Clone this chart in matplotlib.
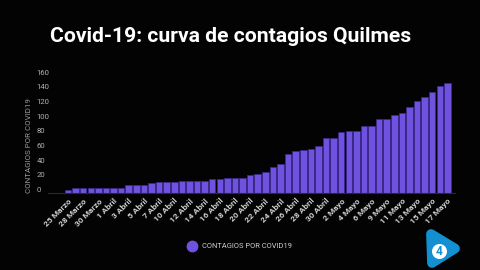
import matplotlib
matplotlib.use("Agg")
import matplotlib.pyplot as plt
import matplotlib.transforms as mtransforms
from matplotlib.lines import Line2D
from matplotlib.patches import Polygon, Circle

# Datos: contagios acumulados en Quilmes
fechas = [
    "25 Marzo", "26 Marzo", "28 Marzo", "29 Marzo", "30 Marzo", "31 Marzo",
    "1 Abril", "2 Abril", "3 Abril", "4 Abril", "5 Abril", "6 Abril",
    "7 Abril", "8 Abril", "10 Abril", "11 Abril", "12 Abril", "13 Abril",
    "14 Abril", "15 Abril", "16 Abril", "17 Abril", "18 Abril", "19 Abril",
    "20 Abril", "21 Abril", "22 Abril", "23 Abril", "24 Abril", "25 Abril",
    "26 Abril", "27 Abril", "28 Abril", "29 Abril", "30 Abril", "1 Mayo",
    "2 Mayo", "3 Mayo", "4 Mayo", "5 Mayo", "6 Mayo", "7 Mayo",
    "9 Mayo", "10 Mayo", "11 Mayo", "12 Mayo", "13 Mayo", "14 Mayo",
    "15 Mayo", "16 Mayo", "17 Mayo",
]
contagios = [
    4, 7, 7, 7, 7, 7, 7, 7, 11, 11, 11, 14, 15, 15, 15, 16, 16, 16,
    17, 19, 19, 20, 21, 21, 24, 26, 28, 36, 40, 53, 57, 58, 60, 64,
    75, 75, 83, 85, 85, 91, 91, 101, 101, 106, 109, 117, 125, 131,
    138, 146, 150,
]
yticks = [0, 20, 40, 60, 80, 100, 120, 140, 160]

bg = "#030303"
violeta = "#7052e0"

fig = plt.figure(figsize=(4.8, 2.7), dpi=100, facecolor=bg)
ax = fig.add_axes([48 / 480, 1 - 193 / 270, 407 / 480, 121 / 270])
ax.set_facecolor(bg)

x = list(range(len(contagios)))
ax.bar(x, contagios, width=0.86, color=violeta, edgecolor="#3b2a8a", linewidth=0.6)

ax.set_xlim(-2.64, 51.0)
ax.set_ylim(0, 165)

# eje y: etiquetas alineadas a la izquierda
ax.set_yticks(yticks)
ax.set_yticklabels([str(v) for v in yticks], ha="left", fontsize=5.6, color="#b0b0b0",
                   family="Roboto")
ax.tick_params(axis="y", length=0, pad=8)
shift = mtransforms.ScaledTranslation(0, 0.035, fig.dpi_scale_trans)
for lbl in ax.get_yticklabels():
    lbl.set_transform(lbl.get_transform() + shift)

# eje x: una fecha cada dos barras
ax.set_xticks(x[::2])
ax.set_xticklabels(fechas[::2], rotation=45, ha="right", va="top",
                   rotation_mode="anchor", fontsize=6, color="#d0d0d0",
                   family="Roboto", fontweight="bold")
ax.tick_params(axis="x", length=0, pad=3)

for s in ["top", "right", "left"]:
    ax.spines[s].set_visible(False)
ax.spines["bottom"].set_color("#2a2a2a")
ax.spines["bottom"].set_linewidth(0.8)

fig.text(29 / 480, 1 - 146 / 270, "CONTAGIOS POR COVID19", rotation=90,
         ha="center", va="center", fontsize=5.7, color="#9a9a9a", family="Roboto")

fig.text(50 / 480, 1 - 37 / 270, "Covid-19: curva de contagios Quilmes",
         ha="left", va="center", fontsize=15.2, color="white",
         family="Roboto", fontweight="bold")

handle = Line2D([], [], marker="o", linestyle="none", markersize=7.5,
                markerfacecolor=violeta, markeredgecolor=violeta)
leg = fig.legend([handle], ["CONTAGIOS POR COVID19"], loc="center",
                 bbox_to_anchor=(240 / 480, 1 - 246.7 / 270), frameon=False,
                 fontsize=5.4, handletextpad=0.9, handlelength=1.0)
for t in leg.get_texts():
    t.set_color("#d0d0d0")
    t.set_family("Roboto")

# logo del canal
lax = fig.add_axes([415 / 480, 0, 60 / 480, 50 / 270])
lax.set_xlim(415, 475)
lax.set_ylim(270, 220)
lax.axis("off")
azul = "#1290d2"
lax.add_patch(Polygon([(431, 234), (455, 248.5), (432, 263)], closed=True,
                      facecolor=azul, edgecolor=azul, linewidth=7, joinstyle="round"))
lax.add_patch(Circle((439.5, 251.5), 7.5, facecolor="white", edgecolor="none"))
lax.text(439.5, 251.8, "4", ha="center", va="center", fontsize=8.5,
         fontweight="bold", color=azul, family="Roboto")

fig.savefig("out.png", dpi=100, facecolor=bg)
